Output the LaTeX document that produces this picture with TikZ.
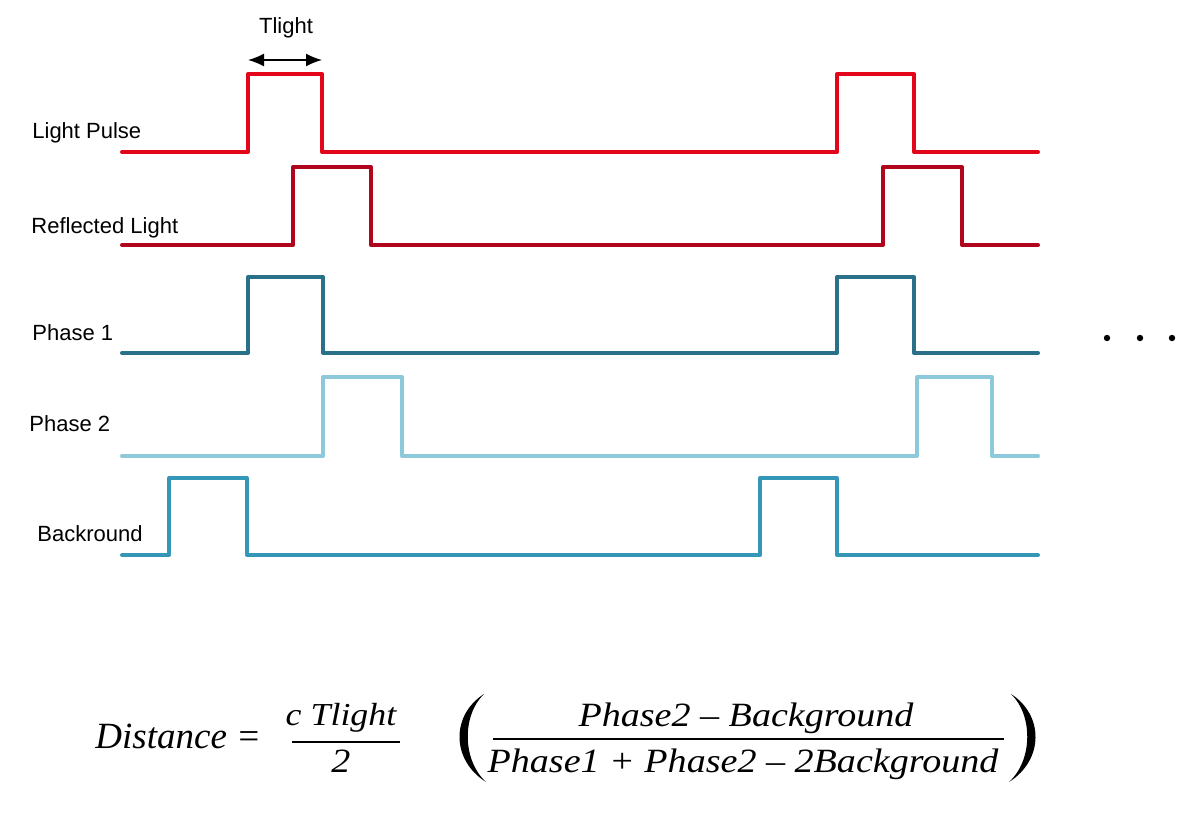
\documentclass[tikz,border=0pt]{standalone}
\usepackage{fontspec}
\setmainfont{Liberation Sans}
\newfontfamily\eqfont{Liberation Serif}[FakeStretch=1.12]
\newfontfamily\eqfontb{Liberation Serif}
\usetikzlibrary{arrows.meta}
\definecolor{lpred}{HTML}{E3061B}
\definecolor{rlred}{HTML}{B0051C}
\definecolor{ponec}{HTML}{2B7089}
\definecolor{ptwoc}{HTML}{8DC9DB}
\definecolor{bgc}{HTML}{3597B7}
\begin{document}
\begin{tikzpicture}[x=0.5pt,y=-0.5pt,
  signal/.style={line width=2pt,line join=round,line cap=round},
  lab/.style={anchor=base west,inner sep=0pt,font=\fontsize{11}{13}\selectfont},
  eq/.style={anchor=base,inner sep=0pt,font=\eqfont\itshape\fontsize{17}{20}\selectfont},
  bar/.style={line width=1pt},
  paren/.style={fill=black,draw=none}]
\useasboundingbox (0,0) rectangle (1200,815);
% signals
\draw[signal,lpred] (122,152) -- (248,152) -- (248,74) -- (322,74) -- (322,152) -- (837,152) -- (837,74) -- (914,74) -- (914,152) -- (1038,152);
\draw[signal,rlred] (122,245) -- (293,245) -- (293,167) -- (371,167) -- (371,245) -- (883,245) -- (883,167) -- (962,167) -- (962,245) -- (1038,245);
\draw[signal,ponec] (122,353) -- (248,353) -- (248,277) -- (323,277) -- (323,353) -- (837,353) -- (837,277) -- (914,277) -- (914,353) -- (1038,353);
\draw[signal,ptwoc] (122,456) -- (323,456) -- (323,377) -- (402,377) -- (402,456) -- (917,456) -- (917,377) -- (992,377) -- (992,456) -- (1038,456);
\draw[signal,bgc] (122,555) -- (169,555) -- (169,478) -- (247,478) -- (247,555) -- (760,555) -- (760,478) -- (837,478) -- (837,555) -- (1038,555);
% labels
\node[lab] (lp) at (32,138) {Light Pulse};
\node[lab] (rl) at (31,233) {Reflected Light};
\node[lab] (p1) at (32,340) {Phase 1};
\node[lab] (p2) at (29,431) {Phase 2};
\node[lab] (bg) at (37,541) {Backround};
\node[lab,anchor=base] (tl) at (286,33) {Tlight};
% Tlight arrow
\coordinate (ta) at (248,60);
\coordinate (tb) at (322,60);
\draw[line width=0.8pt,{Latex[length=8pt,width=6.5pt]}-{Latex[length=8pt,width=6.5pt]}] (ta) -- (tb);
% dots
\fill (1107,338) circle (3.2);
\fill (1140,338) circle (3.2);
\fill (1172,338) circle (3.2);
% equation
\node[eq,anchor=base west,font=\eqfontb\itshape\fontsize{18.5}{22}\selectfont] (dist) at (95,748) {Distance =};
\node[eq,font=\eqfont\itshape\fontsize{16}{19}\selectfont] (num1) at (341,725) {c Tlight};
\node[eq] (den1) at (341,772) {2};
\draw[bar] (292,742) -- (400,742);
\node[eq] (num2) at (746,726) {Phase2 – Background};
\node[eq] (den2) at (743,772) {Phase1 + Phase2 – 2Background};
\draw[bar] (493,739) -- (1004,739);
% parentheses
\path[paren] (484,694) .. controls (451,715) and (451,760) .. (486,782)
  .. controls (462,760) and (462,715) .. (484,694) -- cycle;
\path[paren] (1011,694) .. controls (1044,715) and (1044,760) .. (1009,782)
  .. controls (1033,760) and (1033,715) .. (1011,694) -- cycle;
\end{tikzpicture}
\end{document}
